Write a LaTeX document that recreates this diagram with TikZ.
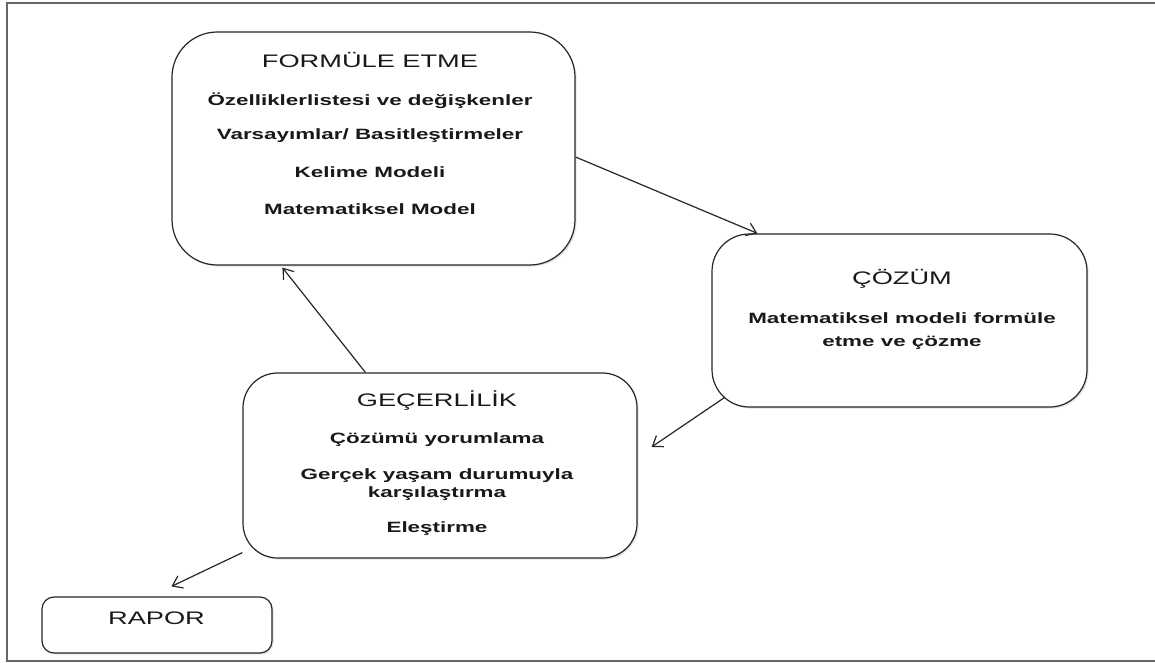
\documentclass[tikz,border=0pt]{standalone}
\usepackage{fontspec}
\setmainfont{Liberation Sans}
\usetikzlibrary{arrows.meta,shadows}

% widened lettering used throughout the chart
\newcommand{\widetext}[1]{\scalebox{1.5}[1]{#1}}

\begin{document}
\begin{tikzpicture}[x=0.75pt,y=-0.75pt,
  card/.style={draw=black!85, line width=0.9pt, fill=white,
    drop shadow={opacity=0.22, shadow xshift=1.2pt, shadow yshift=-1.2pt}},
  ttl/.style={anchor=base, inner sep=0pt, text=black!90, font=\fontsize{13.6}{16}\selectfont},
  item/.style={anchor=base, inner sep=0pt, text=black!90, font=\bfseries\fontsize{11.2}{13}\selectfont},
  flow/.style={draw=black!85, line width=0.9pt,
    -{Straight Barb[length=7pt,width=10pt,line width=0.9pt]}}
]
\useasboundingbox (0,0) rectangle (1155,663);

% outer frame
\draw[black!60, line width=1.3pt] (1156,3) -- (7,3) -- (7,661) -- (1156,661);

% stage boxes
\node[card, rounded corners=34pt, minimum width=302.25pt, minimum height=174.75pt] (formule) at (373.5,148.5) {};
\node[card, rounded corners=28pt, minimum width=281.25pt, minimum height=129.75pt] (cozum) at (899.5,320.5) {};
\node[card, rounded corners=26pt, minimum width=295.5pt, minimum height=138.75pt] (gecer) at (440,465.5) {};
\node[card, rounded corners=9pt, minimum width=172.5pt, minimum height=42pt] (rapor) at (157,625) {};

% FORMÜLE ETME
\node[ttl]  (fTitle) at (370,68)    {\widetext{FORMÜLE ETME}};
\node[item] (fA)     at (370,106)   {\widetext{Özelliklerlistesi ve değişkenler}};
\node[item] (fB)     at (370,140)   {\widetext{Varsayımlar/ Basitleştirmeler}};
\node[item] (fC)     at (370,177.5) {\widetext{Kelime Modeli}};
\node[item] (fD)     at (370,214)   {\widetext{Matematiksel Model}};

% ÇÖZÜM
\node[ttl]  (cTitle) at (902,284)   {\widetext{ÇÖZÜM}};
\node[item] (cA)     at (902,323)   {\widetext{Matematiksel modeli formüle}};
\node[item] (cB)     at (902,346.5) {\widetext{etme ve çözme}};

% GEÇERLİLİK
\node[ttl]  (gTitle) at (437,406.5) {\widetext{GEÇERLİLİK}};
\node[item] (gA)     at (437,443)   {\widetext{Çözümü yorumlama}};
\node[item] (gB)     at (437,479)   {\widetext{Gerçek yaşam durumuyla}};
\node[item] (gC)     at (437,497)   {\widetext{karşılaştırma}};
\node[item] (gD)     at (437,532.5) {\widetext{Eleştirme}};

% RAPOR
\node[ttl]  (rTitle) at (156.5,624) {\widetext{RAPOR}};

% cycle arrows
\draw[flow] ([yshift=-6.4pt]formule.east) -- ([xshift=34.5pt]cozum.north west);
\draw[flow] ([xshift=9.75pt,yshift=7.5pt]cozum.south west) -- ([xshift=10.5pt,yshift=13.9pt]gecer.east);
\draw[flow] ([xshift=92.25pt]gecer.north west) -- ([xshift=83.25pt,yshift=-1.5pt]formule.south west);
\draw[flow] ([yshift=4.5pt]gecer.south west) -- ([xshift=97.5pt,yshift=7.5pt]rapor.north west);
\end{tikzpicture}
\end{document}
